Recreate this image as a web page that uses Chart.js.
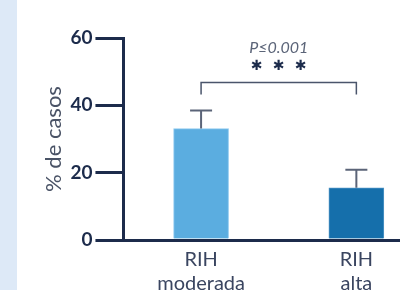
<!DOCTYPE html>
<html lang="es">

<head>
    <meta charset="UTF-8">
    <title>RIH - % de casos</title>
    <script src="https://cdn.jsdelivr.net/npm/chart.js"></script>
    <style>
        html, body { margin: 0; padding: 0; background: #fff; overflow: hidden; }
        #page { position: relative; width: 400px; height: 290px; overflow: hidden; }
        #strip { position: absolute; left: 0; top: 0; width: 17px; height: 290px; background: #dde9f7; }
        #rihChart { position: absolute; left: 0; top: 0; }
    </style>
</head>

<body>
    <div id="page">
        <div id="strip"></div>
        <canvas id="rihChart" width="440" height="318"></canvas>
    </div>

    <script>
        // chart data
        const categories = [['RIH', 'moderada'], ['RIH', 'alta']];
        const percentValues = [33.1, 15.5];
        const errorValues = [5.4, 5.4];   // upper error (SD)
        const barColors = ['#5badE0', '#156fab'];
        const barEdges = ['#8fcaf0', '#4d93c4'];
        const pValueText = 'P≤0.001';
        const starsText = ['✱', '✱', '✱'];

        const navy = '#1c2b4b';
        const slate = '#5b6478';

        // error bars + significance bracket
        const extras = {
            id: 'extras',
            afterDatasetsDraw(chart) {
                const { ctx, scales: { x, y } } = chart;
                ctx.save();

                ctx.strokeStyle = slate;
                ctx.lineWidth = 2;
                percentValues.forEach((v, i) => {
                    const cx = x.getPixelForValue(i);
                    const top = y.getPixelForValue(v + errorValues[i]);
                    const base = y.getPixelForValue(v);
                    ctx.beginPath();
                    ctx.moveTo(cx, base);
                    ctx.lineTo(cx, top);
                    ctx.moveTo(cx - 11, top);
                    ctx.lineTo(cx + 11, top);
                    ctx.stroke();
                });

                // bracket between the two groups
                const x1 = x.getPixelForValue(0);
                const x2 = x.getPixelForValue(1);
                const yb = Math.round(y.getPixelForValue(47)) + 0.5;
                const yl = y.getPixelForValue(43.2);
                ctx.lineWidth = 1.5;
                ctx.strokeStyle = '#4a556b';
                ctx.beginPath();
                ctx.moveTo(x1, yl);
                ctx.lineTo(x1, yb);
                ctx.lineTo(x2, yb);
                ctx.lineTo(x2, yl);
                ctx.stroke();

                const mid = (x1 + x2) / 2;
                ctx.textAlign = 'center';
                ctx.textBaseline = 'middle';
                ctx.fillStyle = navy;
                ctx.font = 'bold 14px "DejaVu Sans"';
                starsText.forEach((s, k) => {
                    ctx.fillText(s, mid + (k - 1) * 22, y.getPixelForValue(51.6));
                });

                ctx.fillStyle = slate;
                ctx.font = 'italic 16px Lato';
                ctx.fillText(pValueText, mid, y.getPixelForValue(57.2));

                ctx.restore();
            }
        };

        const ctx = document.getElementById('rihChart').getContext('2d');
        const rihChart = new Chart(ctx, {
            type: 'bar',
            data: {
                labels: categories,
                datasets: [{
                    data: percentValues,
                    backgroundColor: barColors,
                    borderColor: barEdges,
                    borderWidth: 1,
                    barThickness: 55
                }]
            },
            options: {
                responsive: false,
                animation: false,
                devicePixelRatio: 1,
                layout: {
                    padding: { top: 38, left: 41, right: 6, bottom: 14 }
                },
                plugins: {
                    legend: { display: false },
                    tooltip: { enabled: false }
                },
                scales: {
                    x: {
                        grid: { display: true, drawOnChartArea: false, drawTicks: false, color: 'transparent' },
                        border: { display: true, color: navy, width: 3 },
                        ticks: {
                            padding: 8,
                            color: '#3a4560',
                            font: { family: 'Lato', size: 20, lineHeight: 1.2 }
                        }
                    },
                    y: {
                        min: 0,
                        max: 60,
                        ticks: {
                            stepSize: 20,
                            padding: 3,
                            color: navy,
                            font: { family: 'Lato', size: 19, weight: 'bold' }
                        },
                        grid: { drawOnChartArea: false, tickLength: 28, color: navy, lineWidth: 3 },
                        border: { display: true, color: navy, width: 3 },
                        title: {
                            display: true,
                            text: '% de casos',
                            color: '#4a5366',
                            padding: { top: 0, bottom: 0 },
                            font: { family: 'Lato', size: 22 }
                        }
                    }
                }
            },
            plugins: [extras]
        });
    </script>

</body>

</html>
